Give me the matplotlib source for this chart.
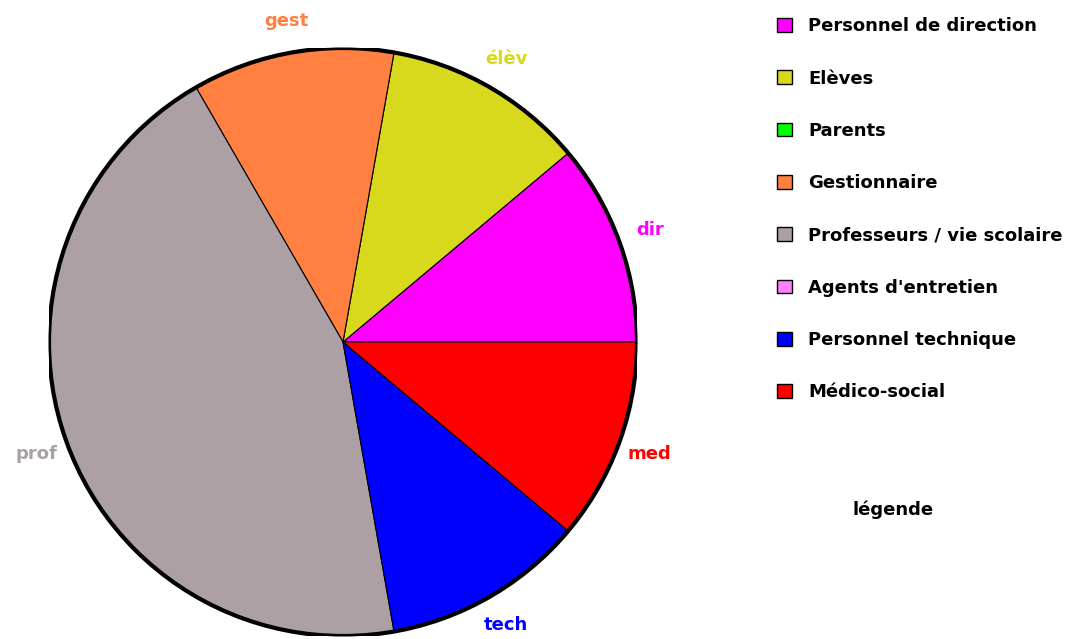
import matplotlib.pyplot as plt
from matplotlib.patches import Patch, Circle
import numpy as np

categories = ['Personnel de direction', 'Elèves', 'Parents', 'Gestionnaire',
              'Professeurs / vie scolaire', "Agents d'entretien",
              'Personnel technique', 'Médico-social']
short_labels = ['dir', 'élèv', 'par', 'gest', 'prof', 'agent', 'tech', 'med']
values = [1, 1, 0, 1, 4, 0, 1, 1]
colors = ['#ff00ff', '#d8d81c', '#00ff00', '#ff8040', '#aca0a5', '#ff80ff',
          '#0000ff', '#ff0000']

fig = plt.figure(figsize=(10.65, 6.39), dpi=100)
ax = fig.add_axes([49 / 1065, 3 / 639, 588 / 1065, 588 / 639])

# les parts nulles ne sont pas dessinées dans le camembert
keep = [i for i, v in enumerate(values) if v > 0]
vals = [values[i] for i in keep]
cols = [colors[i] for i in keep]
labs = [short_labels[i] for i in keep]

wedges, texts = ax.pie(vals, colors=cols, labels=labs, startangle=0,
                       counterclock=True, labeldistance=1.11,
                       wedgeprops=dict(edgecolor='black', linewidth=0.8))
for t, c in zip(texts, cols):
    t.set_color(c)
    t.set_ha('center')
    t.set_va('center')
    t.set_fontsize(13)
    t.set_fontweight('bold')

ax.add_patch(Circle((0, 0), 1, fill=False, edgecolor='black', linewidth=3))
ax.set_xlim(-1, 1)
ax.set_ylim(-1, 1)
ax.axis('off')

handles = [Patch(facecolor=c, edgecolor='black', linewidth=1) for c in colors]
fig.legend(handles, categories, loc='upper left',
           bbox_to_anchor=(761 / 1065, 1 - 1 / 639), frameon=False,
           prop=dict(size=13, weight='bold'), handlelength=0.8,
           handleheight=0.8, handletextpad=0.9, labelspacing=1.9)

fig.text(893 / 1065, 1 - 510 / 639, 'légende', ha='center', va='center',
         fontsize=13, fontweight='bold')

plt.savefig('out.png', dpi=100)
